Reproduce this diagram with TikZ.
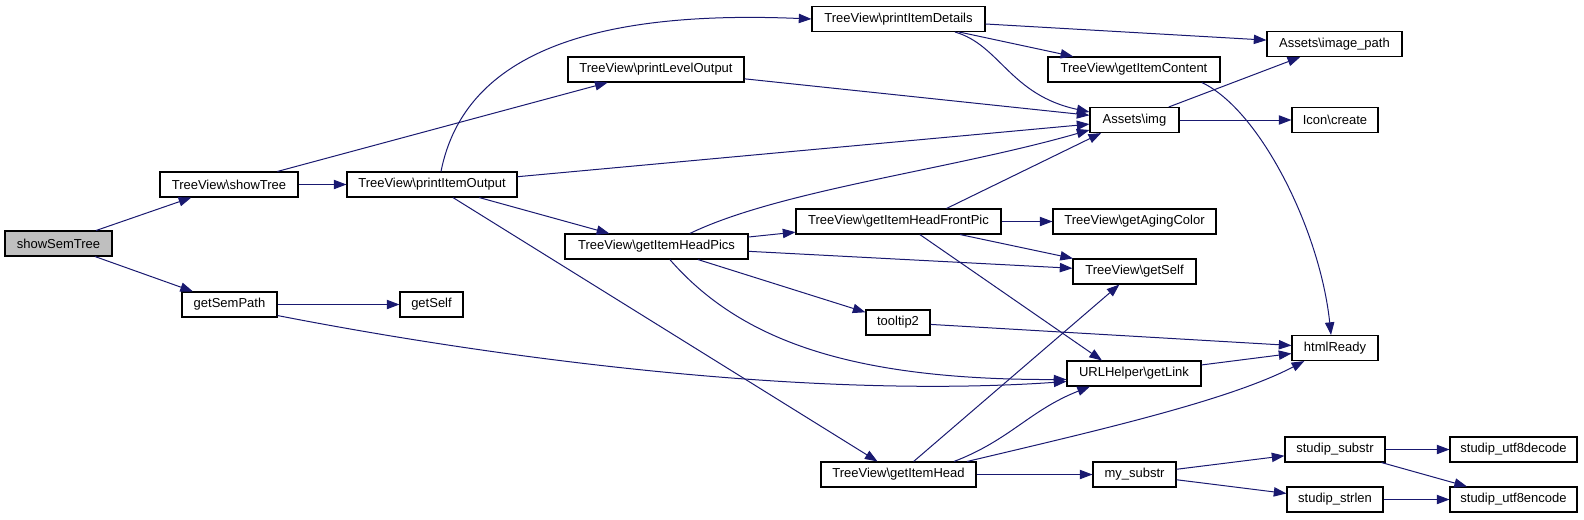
\documentclass[tikz,border=0pt]{standalone}
\usepackage{fontspec}
\setmainfont{Liberation Sans}
\usetikzlibrary{arrows.meta}
\definecolor{navy}{HTML}{191970}
\definecolor{rootgrey}{HTML}{BFBFBF}
\begin{document}
\begin{tikzpicture}[x=0.75pt,y=-0.75pt,
  fn/.style={draw=black, line width=0.8pt, fill=white, minimum width=#1*0.75pt,
    minimum height=18.75pt, inner sep=0pt, font=\fontsize{9.75}{11}\selectfont},
  call/.style={draw=navy, line width=0.75pt, -{Triangle[length=9.5pt,width=7pt]}}]
\useasboundingbox (0,0) rectangle (1584,519);
% nodes
\node[fn=107, fill=rootgrey] (sst) at (58.5,243.5) {showSemTree};
\node[fn=138] (st)  at (229,184.5)  {TreeView\textbackslash showTree};
\node[fn=170] (pio) at (432,184.5)  {TreeView\textbackslash printItemOutput};
\node[fn=95]  (gsp) at (229.5,304.5) {getSemPath};
\node[fn=63]  (gs)  at (431.5,304.5) {getSelf};
\node[fn=173] (pid) at (898.5,19)   {TreeView\textbackslash printItemDetails};
\node[fn=176] (plo) at (656,69.5)   {TreeView\textbackslash printLevelOutput};
\node[fn=135] (ip)  at (1334.5,44)  {Assets\textbackslash image\_path};
\node[fn=172] (gic) at (1134,69.5)  {TreeView\textbackslash getItemContent};
\node[fn=89]  (img) at (1134.5,120) {Assets\textbackslash img};
\node[fn=86]  (ic)  at (1335,120)   {Icon\textbackslash create};
\node[fn=183] (ghp) at (656.5,246.5) {TreeView\textbackslash getItemHeadPics};
\node[fn=205] (gfp) at (898.5,221.5) {TreeView\textbackslash getItemHeadFrontPic};
\node[fn=163] (gac) at (1134.5,221.5) {TreeView\textbackslash getAgingColor};
\node[fn=123] (tgs) at (1134.5,271.5) {TreeView\textbackslash getSelf};
\node[fn=64]  (tt)  at (898,322.5)  {tooltip2};
\node[fn=86]  (hr)  at (1335,348)   {htmlReady};
\node[fn=134] (url) at (1134,373.5) {URLHelper\textbackslash getLink};
\node[fn=155] (gih) at (898.5,474.5) {TreeView\textbackslash getItemHead};
\node[fn=83]  (ms)  at (1134.5,474.5) {my\_substr};
\node[fn=100] (ss)  at (1335,449.5) {studip\_substr};
\node[fn=96]  (sl)  at (1335,499.5) {studip\_strlen};
\node[fn=127] (dec) at (1513.5,449.5) {studip\_utf8decode};
\node[fn=127] (enc) at (1513.5,499.5) {studip\_utf8encode};
% edges
\draw[call] (sst) -- (st);
\draw[call] (sst) -- (gsp);
\draw[call] (st) -- (pio);
\draw[call] (st) -- (plo);
\draw[call] (gsp) -- (gs);
\draw[call] ([yshift=1.5pt]gsp.south east) .. controls (480,355) and (800,400) .. ([yshift=-6pt]url.west);
\draw[call] ([xshift=6.75pt]pio.north) .. controls (465,50) and (600,10) .. (pid.west);
\draw[call] (pio) -- (img);
\draw[call] (pio) -- (ghp);
\draw[call] (pio) -- (gih);
\draw[call] (plo) -- (img);
\draw[call] (pid) -- (ip);
\draw[call] (pid) -- (gic);
\draw[call] ([xshift=42.4pt]pid.south) .. controls (1000,45) and (1010,95) .. ([yshift=6pt]img.west);
\draw[call] ([xshift=-14pt]gic.south east) .. controls (1260,110) and (1320,230) .. ([xshift=-3pt]hr.north);
\draw[call] (img) -- (ip);
\draw[call] (img) -- (ic);
\draw[call] ([xshift=25pt]ghp.north) .. controls (780,190) and (950,170) .. ([yshift=-7.5pt]img.west);
\draw[call] (ghp) -- (gfp);
\draw[call] (ghp) -- (tgs);
\draw[call] (ghp) -- (tt);
\draw[call] ([xshift=10pt]ghp.south) .. controls (740,340) and (850,380) .. ([yshift=-4.5pt]url.west);
\draw[call] ([xshift=36pt]gfp.north) -- ([xshift=-25pt]img.south);
\draw[call] (gfp) -- (gac);
\draw[call] (gfp) -- (tgs);
\draw[call] ([xshift=16pt]gfp.south) -- ([xshift=-24pt]url.north);
\draw[call] (tt) -- (hr);
\draw[call] (url) -- (hr);
\draw[call] (gih) -- (tgs);
\draw[call] ([xshift=41.6pt]gih.north) .. controls (1010,440) and (1030,410) .. ([xshift=-33pt]url.south);
\draw[call] ([xshift=51.4pt]gih.north) .. controls (1100,430) and (1230,400) .. ([xshift=-23pt]hr.south);
\draw[call] (gih) -- (ms);
\draw[call] (ms) -- (ss);
\draw[call] (ms) -- (sl);
\draw[call] (ss) -- (dec);
\draw[call] (ss) -- (enc);
\draw[call] (sl) -- (enc);
\end{tikzpicture}
\end{document}
